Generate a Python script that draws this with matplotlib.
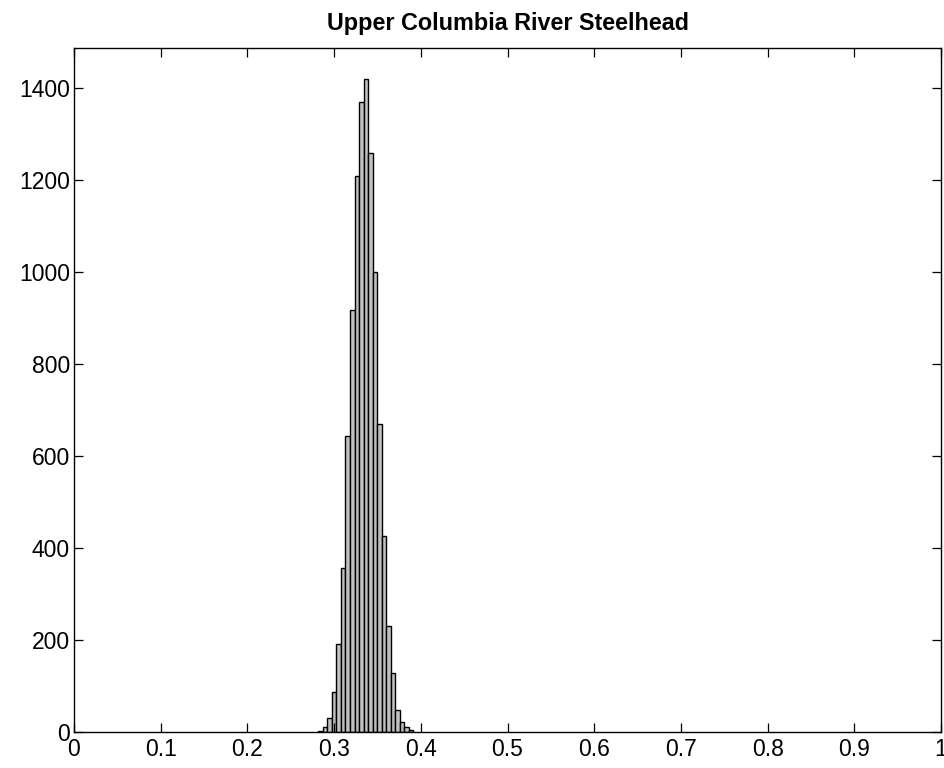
import numpy as np
import matplotlib
matplotlib.use("Agg")
import matplotlib.pyplot as plt

# histogram of simulated values (counts per bin)
bin_lo = 0.2818
bin_hi = 0.3914
counts = [3, 11, 30, 88, 191, 357, 643, 917, 1209, 1370, 1419,
          1259, 1000, 670, 427, 230, 128, 48, 22, 11, 4]
xticks = [0, 0.1, 0.2, 0.3, 0.4, 0.5, 0.6, 0.7, 0.8, 0.9, 1]
xticklabels = ["0", "0.1", "0.2", "0.3", "0.4", "0.5", "0.6", "0.7", "0.8", "0.9", "1"]
yticks = [0, 200, 400, 600, 800, 1000, 1200, 1400]

plt.rcParams['font.family'] = ['Liberation Sans', 'DejaVu Sans']

edges = np.linspace(bin_lo, bin_hi, len(counts) + 1)
width = edges[1] - edges[0]

fig = plt.figure(figsize=(9.45, 7.68), dpi=100)
ax = fig.add_axes([0.0783, 0.0469, 0.9175, 0.8906])

ax.bar(edges[:-1], counts, width=width, align='edge',
       facecolor='#c0c0c0', edgecolor='black', linewidth=1.0)

ax.set_xlim(0, 1)
ax.set_ylim(0, 1487)
ax.set_xticks(xticks)
ax.set_xticklabels(xticklabels)
ax.set_yticks(yticks)
ax.tick_params(direction='in', length=6.5, width=0.9, top=True, right=True,
               labelsize=16.5, pad=4)
ax.tick_params(axis='y', pad=3)
for s in ax.spines.values():
    s.set_linewidth(1.0)

ax.set_title("Upper Columbia River Steelhead", fontsize=16.8, fontweight='bold', pad=13)

fig.savefig("out.png", dpi=100)
